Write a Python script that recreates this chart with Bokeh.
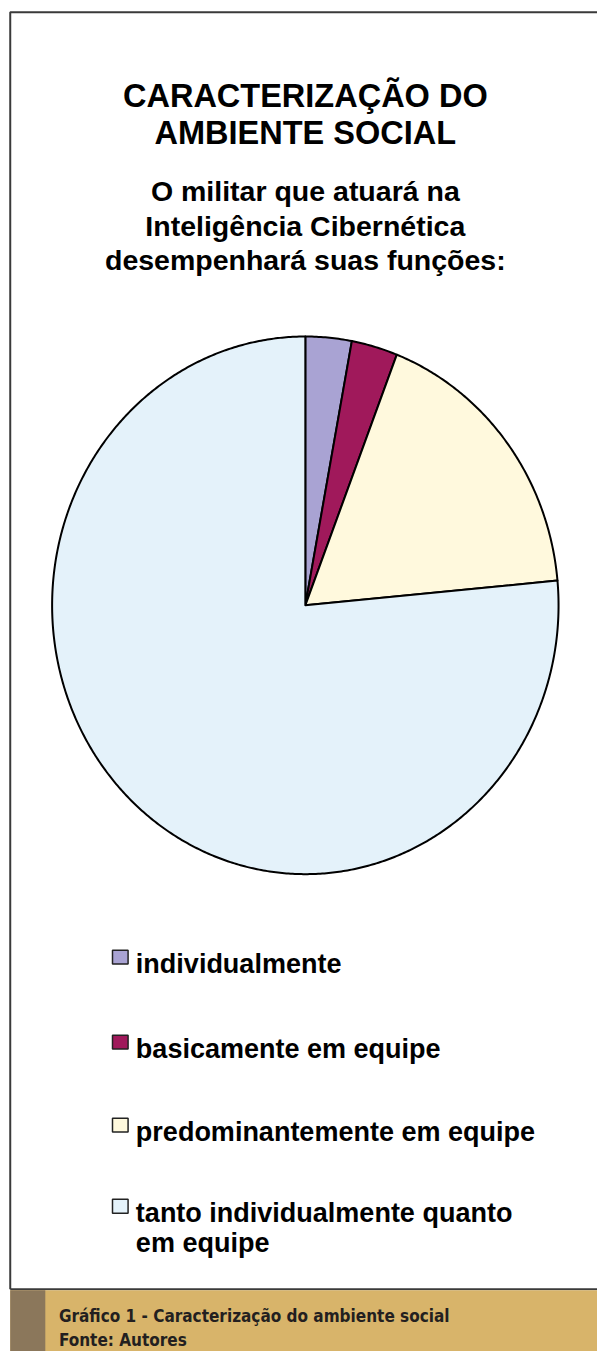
import numpy as np
from bokeh.plotting import figure
from bokeh.models import Range1d, ColumnDataSource
from bokeh.core.properties import value
from bokeh.embed import file_html
from bokeh.resources import INLINE

# ---------------- data ----------------
categories = ["individualmente", "basicamente em equipe",
              "predominantemente em equipe",
              "tanto individualmente quanto em equipe"]
counts = [1, 1, 6, 26]
colors = ["#A9A3D3", "#A0195B", "#FFF9DD", "#E4F2FA"]
legend_lines = [["individualmente"], ["basicamente em equipe"],
                ["predominantemente em equipe"],
                ["tanto individualmente quanto", "em equipe"]]
title_lines = ["CARACTERIZAÇÃO DO", "AMBIENTE SOCIAL"]
subtitle_lines = ["O militar que atuará na", "Inteligência Cibernética",
                  "desempenhará suas funções:"]
caption_lines = ["Gráfico 1 - Caracterização do ambiente social", "Fonte: Autores"]

# ---------------- layout (reference pixel coordinates, scaled to fit) ----------------
W, H = 597, 1351
RW, RH = 613, 1367
CX, CY, RX, RY = 313, 612, 260, 272
FONT = "Liberation Sans"

p = figure(width=W, height=H, output_backend="svg", toolbar_location=None,
           x_range=Range1d(0, RW), y_range=Range1d(RH, 0),
           min_border=0)
p.xaxis.visible = False
p.yaxis.visible = False
p.grid.visible = False
p.outline_line_color = None
p.background_fill_color = "white"
p.border_fill_color = "white"

# frame
p.line([10, 10, RW], [1304, 12, 12], line_color="#3a3a3a", line_width=2)
p.line([10, RW], [1304, 1304], line_color="#3a3a3a", line_width=2)

# caption band
p.quad(left=[10], right=[RW], top=[1305], bottom=[RH],
       fill_color="#D8B46A", line_color=None)
p.quad(left=[10], right=[46], top=[1305], bottom=[RH],
       fill_color="#8B775B", line_color=None)
p.text(x=[60, 60], y=[1331, 1355], text=caption_lines,
       text_font=value("DejaVu Sans Condensed"), text_font_style="bold",
       text_font_size="17px", text_color="#231F20",
       text_baseline="alphabetic", text_align="left")

# titles
p.text(x=[313, 313], y=[97, 134], text=title_lines,
       text_font=value(FONT), text_font_style="bold", text_font_size="32.5px",
       text_color="black", text_align="center", text_baseline="alphabetic")
p.text(x=[313] * 3, y=[193, 228, 263], text=subtitle_lines,
       text_font=value(FONT), text_font_style="bold", text_font_size="28.5px",
       text_color="black", text_align="center", text_baseline="alphabetic")

# pie (clockwise from top, elliptical)
total = float(sum(counts))
fracs = np.array(counts) / total
ends = np.cumsum(fracs) * 2 * np.pi
starts = ends - fracs * 2 * np.pi
xs, ys = [], []
for a0, a1 in zip(starts, ends):
    t = np.linspace(a0, a1, max(int((a1 - a0) * 120), 4))
    xs.append([CX] + list(CX + RX * np.sin(t)) + [CX])
    ys.append([CY] + list(CY - RY * np.cos(t)) + [CY])
src = ColumnDataSource(dict(xs=xs, ys=ys, color=colors, cat=categories))
p.patches("xs", "ys", source=src, fill_color="color", line_color="black",
          line_width=2, line_join="round")

# legend
base_y = [975, 1061, 1145, 1227]
for i, lines in enumerate(legend_lines):
    by = base_y[i]
    p.quad(left=[115], right=[131], top=[by - 14], bottom=[by],
           fill_color=colors[i], line_color="#222222", line_width=1.5)
    p.text(x=[139] * len(lines), y=[by + 30 * k for k in range(len(lines))],
           text=lines, text_font=value(FONT), text_font_style="bold",
           text_font_size="27px", text_color="black",
           text_baseline="alphabetic", text_align="left")

open("out.html", "w").write(file_html(p, INLINE))
